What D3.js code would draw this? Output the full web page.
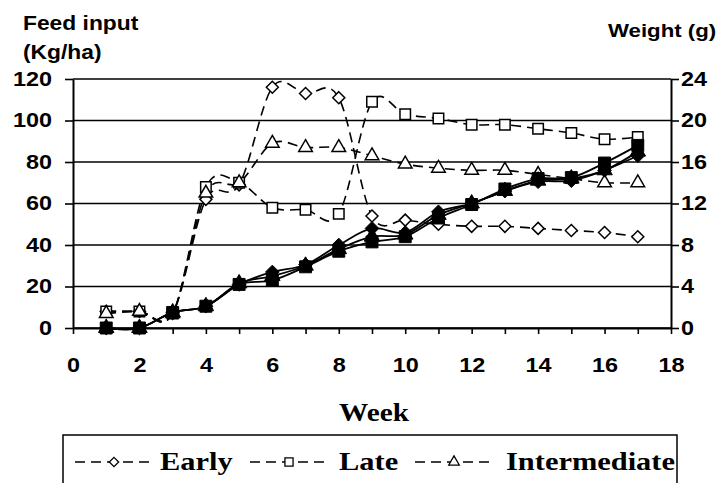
<!DOCTYPE html>
<html><head><meta charset="utf-8">
<script src="https://cdn.jsdelivr.net/npm/d3@7"></script>
<style>
html,body{margin:0;padding:0;background:#fff;}
svg{display:block;}
</style></head>
<body>
<svg id="chart" width="721" height="483"></svg>
<script>
// ---- data ----
const weeks = [1,2,3,4,5,6,7,8,9,10,11,12,13,14,15,16,17];
const feedEarly = [8,8,7,62,69,116,113,111,54,52,50,49,49,48,47,46,44];
const feedLate  = [8,8,7,68,70,58,57,55,109,103,101,98,98,96,94,91,92];
const feedInter = [7,8,7,65,70,89,87,87,83,79,77,76,76,74,72,70,70];
const wtEarly = [0,0,1.5,2.1,4.2,5.4,6.1,8.0,9.6,9.2,11.2,12.0,13.2,14.1,14.2,15.2,16.6];
const wtLate  = [0,0,1.5,2.1,4.2,4.6,5.9,7.4,8.3,8.8,10.6,11.9,13.4,14.4,14.5,15.9,17.6];
const wtInter = [0,0,1.5,2.1,4.3,5.0,6.0,7.6,8.8,9.0,10.9,12.0,13.2,14.2,14.4,15.2,17.0];
const xTicks = [0,1,2,3,4,5,6,7,8,9,10,11,12,13,14,15,16,17,18];
const leftTicks = [0,20,40,60,80,100,120];
const rightTicks = [0,4,8,12,16,20,24];
const seriesNames = ["Early","Late","Intermediate"];

// ---- layout ----
const svg = d3.select("#chart");
const X0 = 73, X1 = 671, Y0 = 328, Y1 = 79;
const x = d3.scaleLinear().domain([0,18]).range([X0,X1]);
const yL = d3.scaleLinear().domain([0,120]).range([Y0,Y1]);
const yR = d3.scaleLinear().domain([0,24]).range([Y0,Y1]);
const sans = "'Liberation Sans', Arial, sans-serif";
const serif = "'Liberation Serif', 'Times New Roman', serif";
const STRETCH = 1.17;
function stretch(sel, f){
  sel.each(function(){
    const w = this.getComputedTextLength();
    if (w>0) d3.select(this).attr("textLength", w*(f||STRETCH)).attr("lengthAdjust","spacingAndGlyphs");
  });
}

// gridlines
svg.append("g").selectAll("line").data(leftTicks).join("line")
  .attr("x1",X0).attr("x2",X1).attr("y1",d=>yL(d)).attr("y2",d=>yL(d))
  .attr("stroke","#000").attr("stroke-width",1.6);

// axes
function styleAxis(g){
  g.select(".domain").attr("stroke","#000").attr("stroke-width",2);
  g.selectAll(".tick line").attr("stroke","#000").attr("stroke-width",1.6);
  g.selectAll(".tick text").attr("fill","#000").style("font-family",sans)
   .style("font-weight","bold").style("font-size","20px");
}
const gl = svg.append("g").attr("transform",`translate(${X0},0)`)
  .call(d3.axisLeft(yL).tickValues(leftTicks).tickSize(8).tickSizeOuter(0).tickPadding(13))
  .call(styleAxis);
const gr = svg.append("g").attr("transform",`translate(${X1},0)`)
  .call(d3.axisRight(yR).tickValues(rightTicks).tickSize(8).tickSizeOuter(0).tickPadding(2))
  .call(styleAxis);
const gx = svg.append("g").attr("transform",`translate(0,${Y0})`)
  .call(d3.axisBottom(x).tickValues(xTicks).tickSize(6).tickSizeOuter(0).tickPadding(24)
        .tickFormat(d=> d%2===0 ? d : ""))
  .call(styleAxis);
[gl,gr,gx].forEach(g=>stretch(g.selectAll(".tick text")));

// symbols
const diamondSym = { draw(ctx, size){ const r = Math.sqrt(size/2);
  ctx.moveTo(0,-r); ctx.lineTo(r,0); ctx.lineTo(0,r); ctx.lineTo(-r,0); ctx.closePath(); } };
const symTypes = [diamondSym, d3.symbolSquare, d3.symbolTriangle];
const symSizes = [72, 110, 80];

const curve = d3.curveCardinal.tension(0);
const lineL = d3.line().x((d,i)=>x(weeks[i])).y(d=>yL(d)).curve(curve);
const lineR = d3.line().x((d,i)=>x(weeks[i])).y(d=>yR(d)).curve(curve);

const feeds = [feedEarly, feedLate, feedInter];
const wts = [wtEarly, wtLate, wtInter];

// feed dashed lines
feeds.forEach(s=>{
  svg.append("path").attr("d",lineL(s)).attr("fill","none")
    .attr("stroke","#000").attr("stroke-width",1.6).attr("stroke-dasharray","10,6");
});
// weight solid lines
wts.forEach(s=>{
  svg.append("path").attr("d",lineR(s)).attr("fill","none")
    .attr("stroke","#000").attr("stroke-width",1.8);
});
// feed markers (hollow)
feeds.forEach((s,k)=>{
  svg.append("g").selectAll("path").data(s).join("path")
    .attr("transform",(d,i)=>`translate(${x(weeks[i])},${yL(d)})`)
    .attr("d",d3.symbol().type(symTypes[k]).size(symSizes[k]))
    .attr("fill","#fff").attr("stroke","#000").attr("stroke-width",1.5);
});
// weight markers (filled)
wts.forEach((s,k)=>{
  svg.append("g").selectAll("path").data(s).join("path")
    .attr("transform",(d,i)=>`translate(${x(weeks[i])},${yR(d)})`)
    .attr("d",d3.symbol().type(symTypes[k]).size(symSizes[k]*1.3))
    .attr("fill","#000").attr("stroke","#000").attr("stroke-width",1);
});

// titles
const t1 = svg.append("text").attr("x",23).attr("y",30).text("Feed input")
  .style("font-family",sans).style("font-weight","bold").style("font-size","19.5px");
const t2 = svg.append("text").attr("x",23).attr("y",59).text("(Kg/ha)")
  .style("font-family",sans).style("font-weight","bold").style("font-size","19.5px");
const t3 = svg.append("text").attr("x",608).attr("y",37).text("Weight (g)")
  .style("font-family",sans).style("font-weight","bold").style("font-size","19px");
const t4 = svg.append("text").attr("x",374).attr("y",421).attr("text-anchor","middle").text("Week")
  .style("font-family",serif).style("font-weight","bold").style("font-size","25px");
[t1,t2,t3,t4].forEach(t=>stretch(t));

// legend
const lg = svg.append("g");
lg.append("rect").attr("x",63).attr("y",435).attr("width",614).attr("height",70)
  .attr("fill","#fff").attr("stroke","#000").attr("stroke-width",1.5);
const legX = [75, 250, 415];
const legT = [160, 339, 506];
const ly = 462;
seriesNames.forEach((n,k)=>{
  const g = lg.append("g").attr("transform",`translate(${legX[k]},${ly})`);
  g.append("line").attr("x1",0).attr("x2",78).attr("y1",0).attr("y2",0)
    .attr("stroke","#000").attr("stroke-width",1.5).attr("stroke-dasharray","10,6");
  g.append("path").attr("transform","translate(39,0)")
    .attr("d",d3.symbol().type(symTypes[k]).size(symSizes[k]*0.6))
    .attr("fill","#fff").attr("stroke","#000").attr("stroke-width",1.3);
  const t = lg.append("text").attr("x",legT[k]).attr("y",470).text(n)
    .style("font-family",serif).style("font-weight","bold").style("font-size","26px");
  stretch(t);
});
</script>
</body></html>
